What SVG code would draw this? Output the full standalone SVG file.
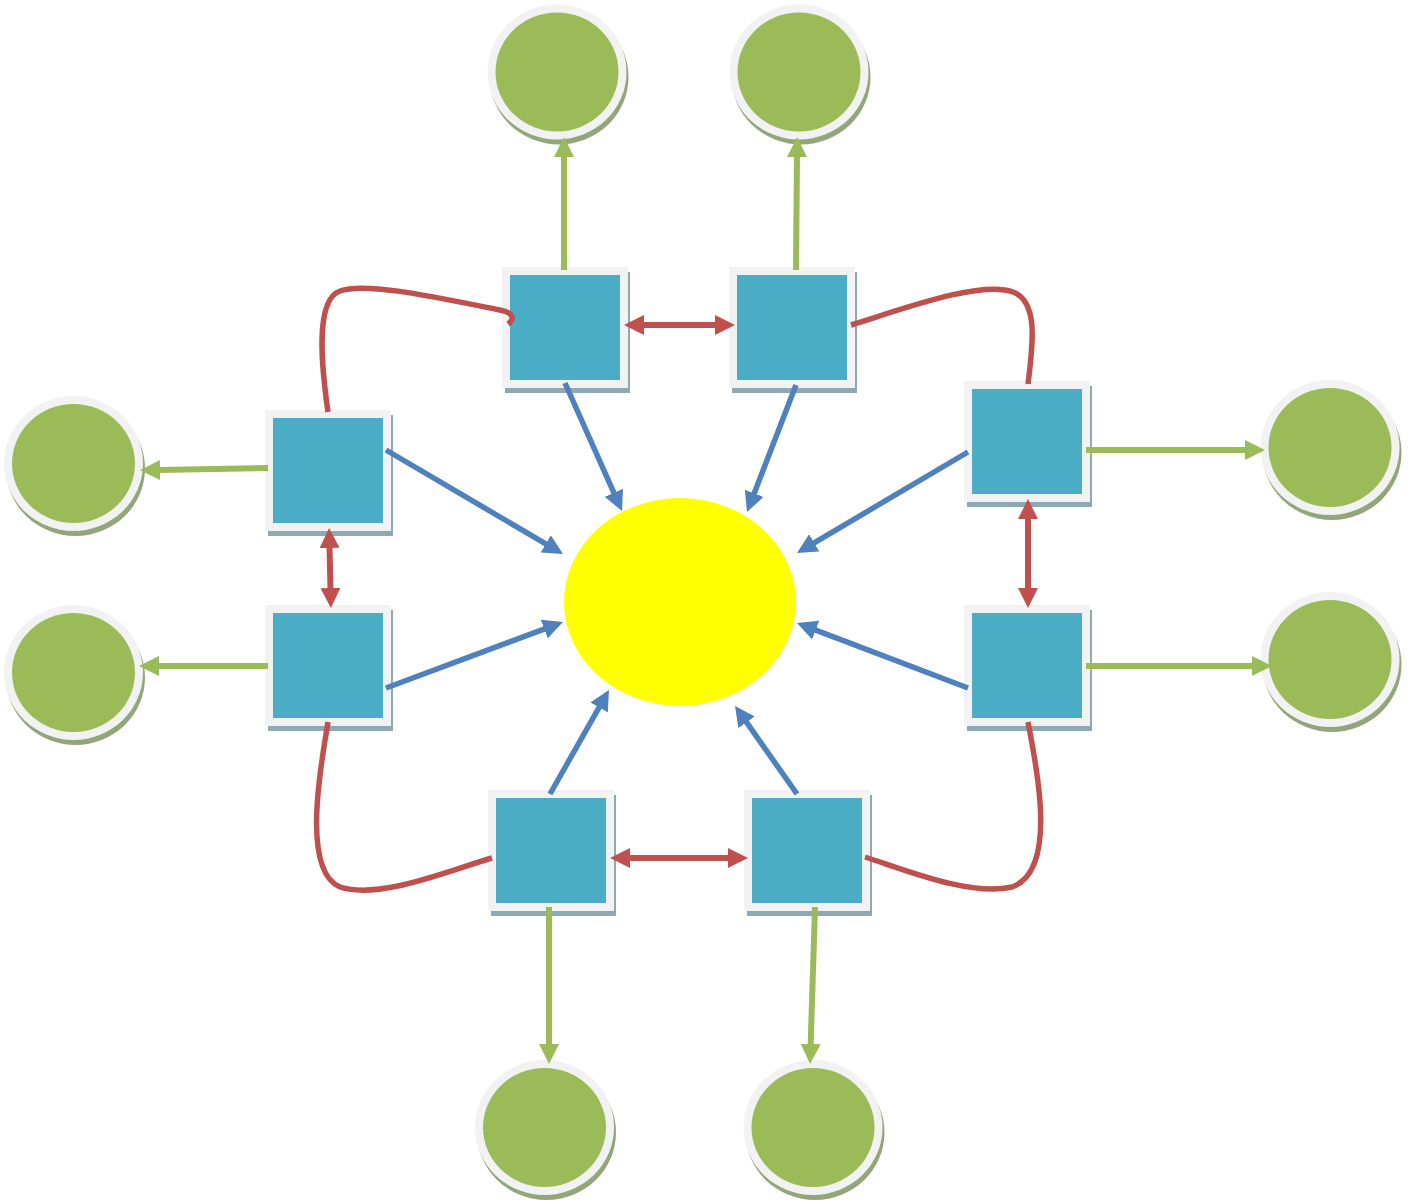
<svg xmlns="http://www.w3.org/2000/svg" width="1413" height="1202" viewBox="0 0 1413 1202">
<style>
.sq-sh{fill:#8ea9b3}
.sq-out{fill:#f2f2f2}
.sq-in{fill:#4bacc6}
.ci-sh{fill:#93a679}
.ci-out{fill:#f2f2f2}
.ci-in{fill:#9bbb59}
.g{stroke:#9bbb59;stroke-width:6;fill:none;marker-end:url(#ag)}
.b{stroke:#4f81bd;stroke-width:5.5;fill:none;marker-end:url(#ab)}
.r{stroke:#c0504d;stroke-width:6;fill:none;marker-end:url(#ar);marker-start:url(#ar)}
.rc{stroke:#c0504d;stroke-width:5.5;fill:none}
</style>
<defs>
<marker id="ag" viewBox="0 0 20 20" refX="2" refY="10" markerWidth="20" markerHeight="20" markerUnits="userSpaceOnUse" orient="auto-start-reverse"><path d="M0,0 L20,10 L0,20 z" fill="#9bbb59"/></marker>
<marker id="ab" viewBox="0 0 20 20" refX="2" refY="10" markerWidth="20" markerHeight="20" markerUnits="userSpaceOnUse" orient="auto-start-reverse"><path d="M0,0 L20,10 L0,20 z" fill="#4f81bd"/></marker>
<marker id="ar" viewBox="0 0 20 20" refX="2" refY="10" markerWidth="20" markerHeight="20" markerUnits="userSpaceOnUse" orient="auto-start-reverse"><path d="M0,0 L20,10 L0,20 z" fill="#c0504d"/></marker>
</defs>
<rect width="1413" height="1202" fill="#ffffff"/>

<g id="center"><ellipse cx="680" cy="602" rx="116" ry="104" fill="#ffff00"/></g>

<g id="circle-top-left"><ellipse class="ci-sh" cx="559" cy="77" rx="69.5" ry="67.5"/><ellipse class="ci-out" cx="557" cy="72" rx="69.5" ry="67.5"/><ellipse class="ci-in" cx="557" cy="72" rx="61.5" ry="59.5"/></g>
<g id="circle-top-right"><ellipse class="ci-sh" cx="801" cy="77" rx="69.5" ry="67.5"/><ellipse class="ci-out" cx="799" cy="72" rx="69.5" ry="67.5"/><ellipse class="ci-in" cx="799" cy="72" rx="61.5" ry="59.5"/></g>
<g id="circle-left-upper"><ellipse class="ci-sh" cx="75.5" cy="468.5" rx="69.5" ry="67.5"/><ellipse class="ci-out" cx="73.5" cy="463.5" rx="69.5" ry="67.5"/><ellipse class="ci-in" cx="73.5" cy="463.5" rx="61.5" ry="59.5"/></g>
<g id="circle-left-lower"><ellipse class="ci-sh" cx="75.5" cy="677.5" rx="69.5" ry="67.5"/><ellipse class="ci-out" cx="73.5" cy="672.5" rx="69.5" ry="67.5"/><ellipse class="ci-in" cx="73.5" cy="672.5" rx="61.5" ry="59.5"/></g>
<g id="circle-right-upper"><ellipse class="ci-sh" cx="1332" cy="452.5" rx="69.5" ry="67.5"/><ellipse class="ci-out" cx="1330" cy="447.5" rx="69.5" ry="67.5"/><ellipse class="ci-in" cx="1330" cy="447.5" rx="61.5" ry="59.5"/></g>
<g id="circle-right-lower"><ellipse class="ci-sh" cx="1332" cy="664.5" rx="69.5" ry="67.5"/><ellipse class="ci-out" cx="1330" cy="659.5" rx="69.5" ry="67.5"/><ellipse class="ci-in" cx="1330" cy="659.5" rx="61.5" ry="59.5"/></g>
<g id="circle-bottom-left"><ellipse class="ci-sh" cx="546.5" cy="1132.5" rx="69.5" ry="67.5"/><ellipse class="ci-out" cx="544.5" cy="1127.5" rx="69.5" ry="67.5"/><ellipse class="ci-in" cx="544.5" cy="1127.5" rx="61.5" ry="59.5"/></g>
<g id="circle-bottom-right"><ellipse class="ci-sh" cx="815" cy="1132.5" rx="69.5" ry="67.5"/><ellipse class="ci-out" cx="813" cy="1127.5" rx="69.5" ry="67.5"/><ellipse class="ci-in" cx="813" cy="1127.5" rx="61.5" ry="59.5"/></g>

<g id="sq-top-left"><rect class="sq-sh" x="505" y="272" width="125" height="121"/><rect class="sq-out" x="502" y="267" width="126" height="121"/><rect class="sq-in" x="510" y="275" width="110" height="105"/></g>
<g id="sq-top-right"><rect class="sq-sh" x="732" y="272" width="125" height="121"/><rect class="sq-out" x="729" y="267" width="126" height="121"/><rect class="sq-in" x="737" y="275" width="110" height="105"/></g>
<g id="sq-right-upper"><rect class="sq-sh" x="967" y="386" width="125" height="121"/><rect class="sq-out" x="964" y="381" width="126" height="121"/><rect class="sq-in" x="972" y="389" width="110" height="105"/></g>
<g id="sq-left-upper"><rect class="sq-sh" x="268" y="415" width="125" height="121"/><rect class="sq-out" x="265" y="410" width="126" height="121"/><rect class="sq-in" x="273" y="418" width="110" height="105"/></g>
<g id="sq-left-lower"><rect class="sq-sh" x="268" y="610" width="125" height="121"/><rect class="sq-out" x="265" y="605" width="126" height="121"/><rect class="sq-in" x="273" y="613" width="110" height="105"/></g>
<g id="sq-right-lower"><rect class="sq-sh" x="967" y="610" width="125" height="121"/><rect class="sq-out" x="964" y="605" width="126" height="121"/><rect class="sq-in" x="972" y="613" width="110" height="105"/></g>
<g id="sq-bottom-left"><rect class="sq-sh" x="491" y="795" width="125" height="121"/><rect class="sq-out" x="488" y="790" width="126" height="121"/><rect class="sq-in" x="496" y="798" width="110" height="105"/></g>
<g id="sq-bottom-right"><rect class="sq-sh" x="747" y="795" width="125" height="121"/><rect class="sq-out" x="744" y="790" width="126" height="121"/><rect class="sq-in" x="752" y="798" width="110" height="105"/></g>

<g id="connectors">
<line class="g" x1="564" y1="270" x2="564" y2="155"/>
<line class="g" x1="796" y1="270" x2="797" y2="155"/>
<line class="g" x1="268" y1="468" x2="158" y2="470"/>
<line class="g" x1="268" y1="666" x2="157" y2="666"/>
<line class="g" x1="1086" y1="450" x2="1247" y2="450"/>
<line class="g" x1="1086" y1="666" x2="1254" y2="666"/>
<line class="g" x1="549" y1="907" x2="549" y2="1046"/>
<line class="g" x1="815" y1="907" x2="810.6" y2="1046"/>

<line class="b" x1="565" y1="383" x2="614.7" y2="494.6"/>
<line class="b" x1="796" y1="385" x2="753.5" y2="495.2"/>
<line class="b" x1="968" y1="452" x2="812.5" y2="543.8"/>
<line class="b" x1="386" y1="450" x2="547.5" y2="544.9"/>
<line class="b" x1="386" y1="688" x2="546.1" y2="628.3"/>
<line class="b" x1="968" y1="688" x2="813.8" y2="629.4"/>
<line class="b" x1="550" y1="794" x2="600.1" y2="705.7"/>
<line class="b" x1="797" y1="794" x2="745.4" y2="720.7"/>

<line class="r" x1="642" y1="325" x2="717" y2="325"/>
<line class="r" x1="329.5" y1="546" x2="330.5" y2="590"/>
<line class="r" x1="1028" y1="517" x2="1028" y2="590"/>
<line class="r" x1="628" y1="858" x2="730" y2="858"/>

<path class="rc" d="M 328 412 C 322 370, 314 300, 340 291 C 365 282, 430 296, 500 310 C 515 313, 514 320, 508 324"/>
<path class="rc" d="M 851 325 C 900 310, 980 280, 1013 292 C 1040 302, 1032 350, 1028 384"/>
<path class="rc" d="M 328 722 C 322 760, 300 870, 340 887 C 380 900, 450 870, 492 858"/>
<path class="rc" d="M 1028 722 C 1035 760, 1060 870, 1012 887 C 970 897, 900 868, 865 857"/>
</g>
</svg>
